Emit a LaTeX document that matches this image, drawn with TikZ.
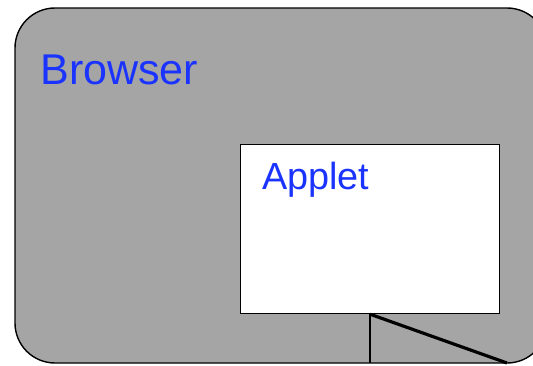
\documentclass[tikz,border=0pt]{standalone}
\usepackage{fontspec}
\setmainfont{Liberation Sans}
\usetikzlibrary{positioning}
\definecolor{brgray}{RGB}{165,165,165}
\definecolor{brblue}{RGB}{26,51,255}
\tikzstyle{window} = [rounded corners=0.8cm, draw=black, line width=0.8pt, fill=brgray]
\tikzstyle{panel} = [rectangle, draw=black, line width=0.7pt, fill=white, minimum width=5.18cm, minimum height=3.38cm, inner sep=0pt, anchor=north west]
\tikzstyle{title} = [text=brblue, inner sep=0pt, anchor=base west]
\tikzstyle{wire} = [draw=black, line width=0.7pt]
\begin{document}
\begin{tikzpicture}[x=0.02cm, y=-0.02cm]
\useasboundingbox (0,0) rectangle (533,365);
% Browser window
\coordinate (browsertop) at (15,8);
\coordinate (browserbottom) at (547,363);
\draw[window] (browsertop) rectangle (browserbottom);
\node (browsertitle) [title, font=\fontsize{24.5}{30}\selectfont] at (40,84) {Browser};

% Applet panel
\node (applet) [panel] at (240,144) {};
\node (applettitle) [title, font=\fontsize{21.5}{27}\selectfont] at (262,189) {Applet};

% Connectors
\coordinate (cable) at (507,363);
\draw[wire] (applet.south) -- (applet.south |- browserbottom);
\draw[wire, line width=1.8pt] (applet.south) -- (cable);
\end{tikzpicture}
\end{document}
